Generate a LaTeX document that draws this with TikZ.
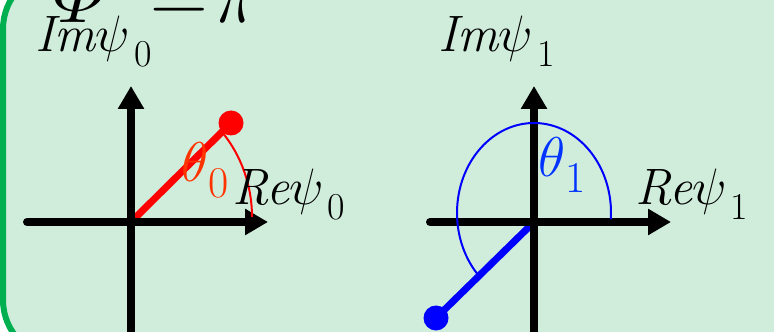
\RequirePackage{fix-cm}
\documentclass[tikz,border=0pt]{standalone}
\usepackage{amsmath}
\usepackage{fontspec}
\usetikzlibrary{arrows.meta,calc}
\definecolor{boxbg}{HTML}{D0EDDC}
\definecolor{boxgreen}{HTML}{00B050}
\definecolor{thetared}{HTML}{FF3300}
\definecolor{thetablue}{HTML}{0033FF}
\newcommand{\idx}[2][19]{\raisebox{-0.28em}{\fontsize{#1}{#1}\selectfont\upshape #2}}

\begin{document}
\begin{tikzpicture}[
  x=0.5pt, y=0.5pt,
  every node/.style={font=\fontsize{25.6}{30}\selectfont\itshape, inner sep=0pt, anchor=base west},
  axisline/.style={line width=4pt, line cap=round, -{Triangle[length=11.5pt, width=12.5pt]}},
  phasor/.style={line width=3.5pt},
  anglearc/.style={line width=1pt},
  anglelabel/.style={font=\fontsize{28}{32}\selectfont}
]
  \useasboundingbox (0,0) rectangle (774,331);
  \clip (0,0) rectangle (774,331);

  % Panel
  \draw[line width=3pt, draw=boxgreen, fill=boxbg, rounded corners=29pt]
    (3,-27) rectangle (800,360);

  % Title
  \node[font=\fontsize{40}{44}\selectfont] (title) at (53,308) {$\varPhi\mkern5mu=\mkern-4mu\pi$};

  % Origins
  \coordinate (o0) at (131,109);
  \coordinate (o1) at (534,109);

  % Phasors
  \coordinate (p0) at (231,208);
  \coordinate (p1) at (436,13);
  \draw[phasor, red] (o0) -- (p0);
  \fill[red] (p0) circle[radius=12.5];
  \draw[phasor, blue] (o1) -- (p1);
  \fill[blue] (p1) circle[radius=12.5];

  % Axes
  \foreach \o in {o0,o1} {
    \draw[axisline] ($(\o)+(-104,0)$) -- ($(\o)+(137,0)$);
    \draw[axisline] ($(\o)+(0,-140)$) -- ($(\o)+(0,136)$);
  }

  % Angles
  \coordinate (c0) at (131,114);
  \coordinate (c1) at (534,118);
  \draw[anglearc, red] (c0) ++(0:121 and 129)
    arc[start angle=0, end angle=41, x radius=121, y radius=129];
  \draw[anglearc, blue] (c1) ++(-4:77 and 90)
    arc[start angle=-4, end angle=223, x radius=77, y radius=90];

  % Labels, left
  \node (im0) at (35,279) {Im$\psi$\kern0.08em\idx{0}};
  \node (re0) at (232,126) {Re$\psi$\kern0.08em\idx{0}};
  \node[anglelabel, text=thetared] (th0) at (181,149) {$\theta$\idx[22]{0}};

  % Labels, right
  \node (im1) at (438,279) {Im$\psi$\kern0.08em\idx{1}};
  \node (re1) at (635,126) {Re$\psi$\kern0.08em\idx{1}};
  \node[anglelabel, text=thetablue] (th1) at (538,154) {$\theta$\idx[22]{1}};
\end{tikzpicture}
\end{document}
